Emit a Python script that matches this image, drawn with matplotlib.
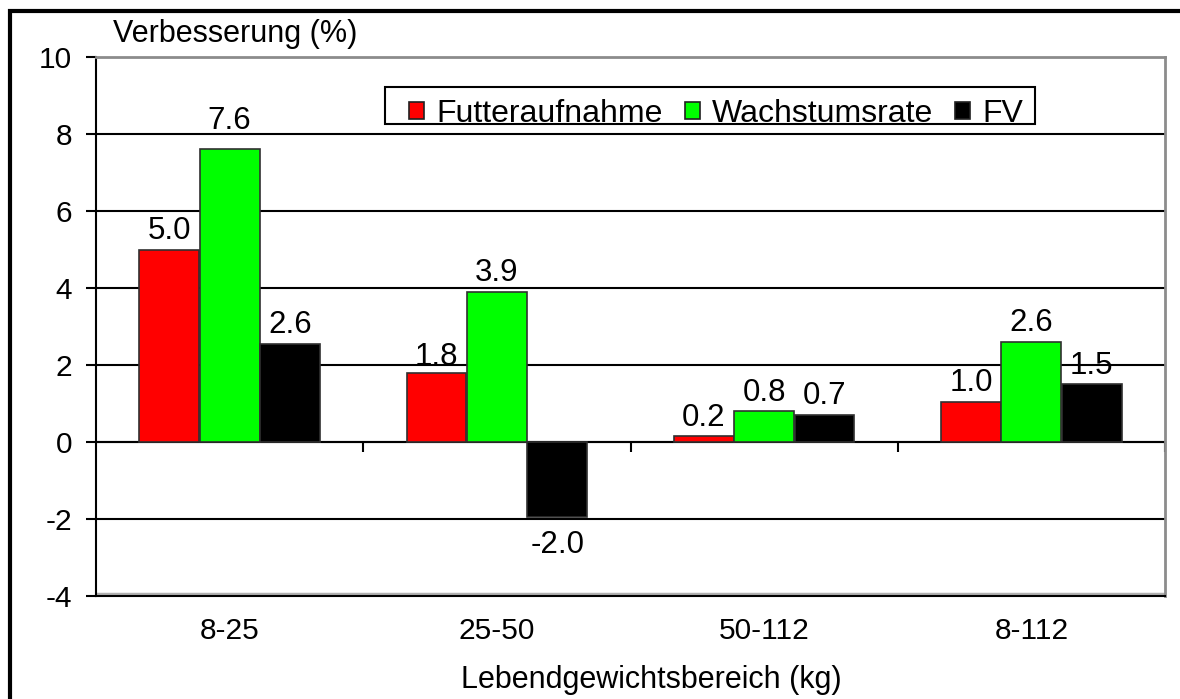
import matplotlib
matplotlib.use("Agg")
import matplotlib.pyplot as plt
from matplotlib.patches import Rectangle, Patch
import numpy as np

plt.rcParams['font.family'] = ['Liberation Sans', 'DejaVu Sans']

categories = ["8-25", "25-50", "50-112", "8-112"]
series_names = ["Futteraufnahme", "Wachstumsrate", "FV"]
futter = [5.0, 1.8, 0.15, 1.05]
wachstum = [7.6, 3.9, 0.8, 2.6]
fv = [2.55, -1.95, 0.7, 1.5]
labels_futter = ["5.0", "1.8", "0.2", "1.0"]
labels_wachstum = ["7.6", "3.9", "0.8", "2.6"]
labels_fv = ["2.6", "-2.0", "0.7", "1.5"]
colors = ["#FF0000", "#00FF00", "#000000"]
yticks = [-4, -2, 0, 2, 4, 6, 8, 10]

W, H = 1180, 699
fig = plt.figure(figsize=(W / 100, H / 100), dpi=100)
ax = fig.add_axes([96 / W, (H - 596) / H, (1165 - 96) / W, (596 - 57) / H])

FS_TICK = 21.5
FS_VAL = 22.5
FS_LAB = 22
FS_LEG = 23

# extra label padding (points), per series and category, as placed in the original
label_pad = [[2.6, 0.5, 2.6, 2.6], [9.5, 2.6, 2.6, 2.6], [2.6, 9.5, 2.6, 2.6]]

x = np.arange(len(categories))
bw = 0.224
offs = [-0.226, 0.0, 0.226]
all_vals = [futter, wachstum, fv]
all_labels = [labels_futter, labels_wachstum, labels_fv]
for i in range(3):
    bars = ax.bar(x + offs[i], all_vals[i], width=bw, color=colors[i],
                  edgecolor="#303030", linewidth=1.2, zorder=3)
    for j, (b, v, lab) in enumerate(zip(bars, all_vals[i], all_labels[i])):
        cx = b.get_x() + b.get_width() / 2
        p = label_pad[i][j]
        if v >= 0:
            ax.annotate(lab, (cx, v), xytext=(0, p), textcoords="offset points",
                        ha="center", va="bottom", fontsize=FS_VAL, zorder=4)
        else:
            ax.annotate(lab, (cx, v), xytext=(0, -p), textcoords="offset points",
                        ha="center", va="top", fontsize=FS_VAL, zorder=4)

ymin, ymax = -4, 10
ax.set_ylim(ymin, ymax)
ax.set_xlim(-0.5, len(categories) - 0.5)
ax.set_yticks(yticks)
ax.set_yticklabels([str(t) for t in yticks], fontsize=FS_TICK)
ax.tick_params(axis="y", direction="out", length=7.2, width=1.5, pad=10, color="black")
ax.set_xticks(x)
ax.set_xticklabels(categories, fontsize=FS_TICK)
ax.tick_params(axis="x", length=0, pad=15)

ax.set_axisbelow(True)
ax.yaxis.grid(True, color="black", linewidth=1.5)
ax.xaxis.grid(False)

ax.spines["left"].set_color("black")
ax.spines["left"].set_linewidth(1.5)
ax.spines["bottom"].set_color("black")
ax.spines["bottom"].set_linewidth(1.5)
ax.spines["top"].set_color("#8c8c8c")
ax.spines["top"].set_linewidth(2)
ax.spines["right"].set_color("#8c8c8c")
ax.spines["right"].set_linewidth(2)
ax.axhline(ymin + 0.06, color="#b0b0b0", linewidth=2.5, zorder=1)

# zero line with category separator ticks
sec = ax.secondary_xaxis((0 - ymin) / (ymax - ymin))
sec.set_xticks(x + 0.5)
sec.set_xticklabels([""] * len(categories))
sec.tick_params(direction="out", length=7.5, width=1.5, color="black")
sec.spines["bottom"].set_linewidth(1.5)
sec.spines["bottom"].set_color("black")

# legend
handles = [Patch(facecolor=c, edgecolor="#202020", linewidth=1.2) for c in colors]
leg = fig.legend(handles, series_names, loc="center left",
                 bbox_to_anchor=(409 / W, (H - 114) / H, (1023 - 409) / W, 0),
                 mode="expand", ncol=3, fontsize=FS_LEG, frameon=False,
                 borderpad=0, handlelength=0.47, handleheight=0.47,
                 handletextpad=0.38, columnspacing=1.0, borderaxespad=0)
fig.patches.append(Rectangle((385 / W, (H - 124) / H), (1035 - 385) / W, 37 / H,
                             transform=fig.transFigure, fill=False,
                             edgecolor="black", linewidth=1.5))

fig.text(113 / W, (H - 42) / H, "Verbesserung (%)", fontsize=FS_LAB, ha="left", va="baseline")
fig.text(651 / W, (H - 688) / H, "Lebendgewichtsbereich (kg)", fontsize=FS_LAB,
         ha="center", va="baseline")

# outer frame
fig.patches.append(Rectangle((10 / W, -0.2), 1.2, (H - 11.5) / H + 0.2,
                             transform=fig.transFigure, fill=False,
                             edgecolor="black", linewidth=3, clip_on=False))

fig.savefig("out.png", dpi=100)
